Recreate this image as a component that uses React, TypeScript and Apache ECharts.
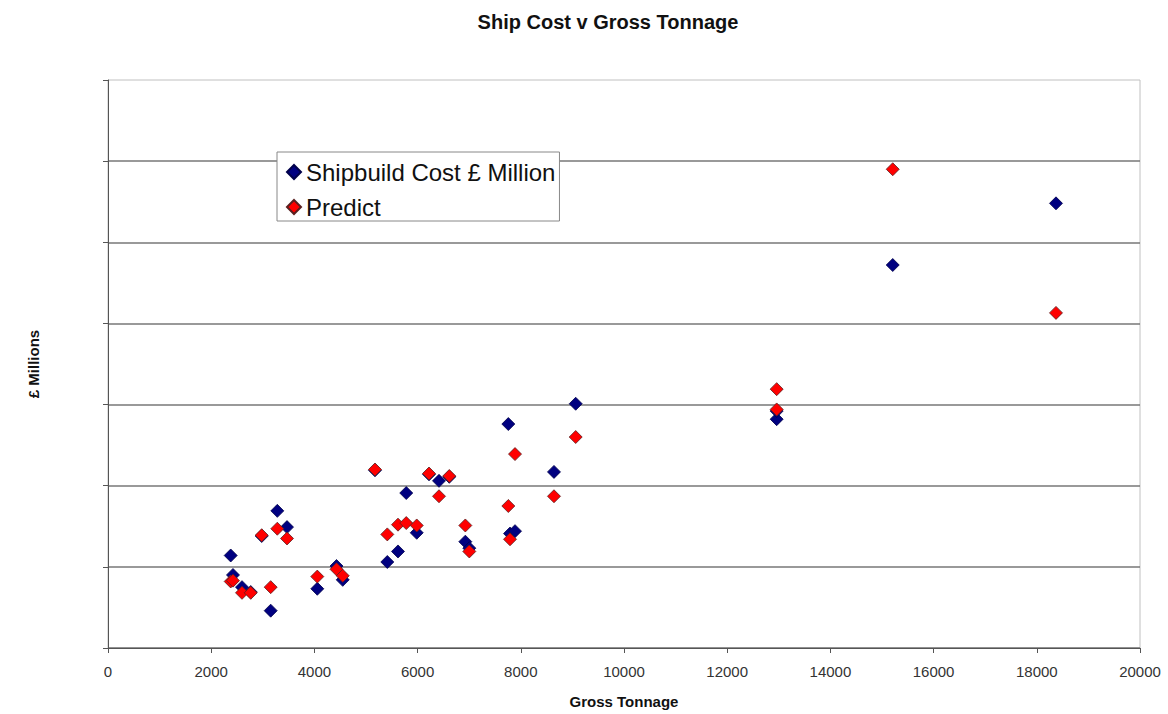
import React, { useEffect, useRef } from "react";
import * as echarts from "echarts";

// Gross tonnage of each ship
const tonnage = [
  2378, 2422, 2597, 2766, 2979, 3153, 3281, 3469, 4056, 4428,
  4549, 5174, 5413, 5620, 5780, 5983, 6221, 6415, 6614, 6925,
  7002, 7758, 7791, 7888, 8643, 9064, 12959, 12959, 15208, 18372,
];
// Actual shipbuild cost (£ million)
const actualCost = [
  11.4, 9.0, 7.5, 6.9, 13.8, 4.6, 16.9, 14.9, 7.3, 10.1,
  8.4, 21.9, 10.6, 11.9, 19.1, 14.2, 21.4, 20.6, 21.1, 13.1,
  12.3, 27.6, 14.1, 14.4, 21.7, 30.1, 28.2, 29.2, 47.2, 54.8,
];
// Predicted cost
const predictCost = [
  8.2, 8.3, 6.8, 6.8, 13.9, 7.5, 14.7, 13.5, 8.8, 9.7,
  8.9, 22.0, 14.0, 15.2, 15.4, 15.1, 21.5, 18.7, 21.2, 15.1,
  11.9, 17.5, 13.4, 23.9, 18.7, 26.0, 31.9, 29.4, 59.0, 41.3,
];

const seriesNames = ["Shipbuild Cost £ Million", "Predict"];
const xTicks = { min: 0, max: 20000, interval: 2000 };
const yTicks = { min: 0, max: 70, interval: 10 };

export default function App() {
  const ref = useRef<HTMLDivElement>(null);
  useEffect(() => {
    if (!ref.current) return;
    const chart = echarts.init(ref.current, null, { renderer: "svg" });
    const font = "'Liberation Sans', Arial, sans-serif";
    chart.setOption({
      animation: false,
      backgroundColor: "#ffffff",
      textStyle: { fontFamily: font },
      title: {
        text: "Ship Cost v Gross Tonnage",
        left: 603,
        top: 7,
        textAlign: "center",
        textStyle: { fontSize: 20, fontWeight: "bold", color: "#111", fontFamily: font },
      },
      legend: {
        orient: "vertical",
        left: 277,
        top: 152,
        padding: [8, 4, 2, 9],
        itemGap: 11,
        itemWidth: 14,
        itemHeight: 14,
        backgroundColor: "#ffffff",
        borderColor: "#888",
        borderWidth: 1,
        textStyle: { fontSize: 24, color: "#111", fontFamily: font },
        data: [
          { name: seriesNames[0], icon: "diamond" },
          { name: seriesNames[1], icon: "diamond" },
        ],
      },
      grid: {
        left: 108,
        right: 28,
        top: 80,
        bottom: 65,
        show: true,
        borderColor: "#c0c0c0",
        borderWidth: 1,
        backgroundColor: "transparent",
      },
      xAxis: {
        type: "value",
        min: xTicks.min,
        max: xTicks.max,
        interval: xTicks.interval,
        name: "Gross Tonnage",
        nameLocation: "middle",
        nameGap: 46,
        nameTextStyle: { fontSize: 15, fontWeight: "bold", color: "#111", fontFamily: font },
        axisLine: { lineStyle: { color: "#555", width: 1 } },
        axisTick: { show: true, length: 5, lineStyle: { color: "#555" } },
        axisLabel: {
          fontSize: 15,
          color: "#333",
          margin: 16,
          fontFamily: font,
          formatter: (v: number) => String(v),
        },
        splitLine: { show: false },
      },
      yAxis: {
        type: "value",
        min: yTicks.min,
        max: yTicks.max,
        interval: yTicks.interval,
        name: "£ Millions",
        nameLocation: "middle",
        nameGap: 67,
        nameRotate: 90,
        nameTextStyle: { fontSize: 15, fontWeight: "bold", color: "#111", fontFamily: font },
        axisLine: { show: true, lineStyle: { color: "#555", width: 1 } },
        axisTick: { show: true, length: 5, lineStyle: { color: "#555" } },
        axisLabel: { show: false },
        splitLine: {
          show: true,
          showMaxLine: false,
          lineStyle: { color: "#777", width: 1.5 },
        },
      },
      series: [
        {
          name: seriesNames[0],
          type: "scatter",
          symbol: "diamond",
          symbolSize: 13,
          itemStyle: { color: "#000080", borderColor: "#00004a", borderWidth: 0.8, opacity: 1 },
          data: tonnage.map((t, i) => [t, actualCost[i]]),
          z: 2,
        },
        {
          name: seriesNames[1],
          type: "scatter",
          symbol: "diamond",
          symbolSize: 13,
          itemStyle: { color: "#ff0000", borderColor: "#5a2020", borderWidth: 0.8, opacity: 1 },
          data: tonnage.map((t, i) => [t, predictCost[i]]),
          z: 3,
        },
      ],
    });
    return () => chart.dispose();
  }, []);
  return (
    <div
      ref={ref}
      style={{ position: "fixed", left: 0, top: 0, width: 1168, height: 714 }}
    />
  );
}
